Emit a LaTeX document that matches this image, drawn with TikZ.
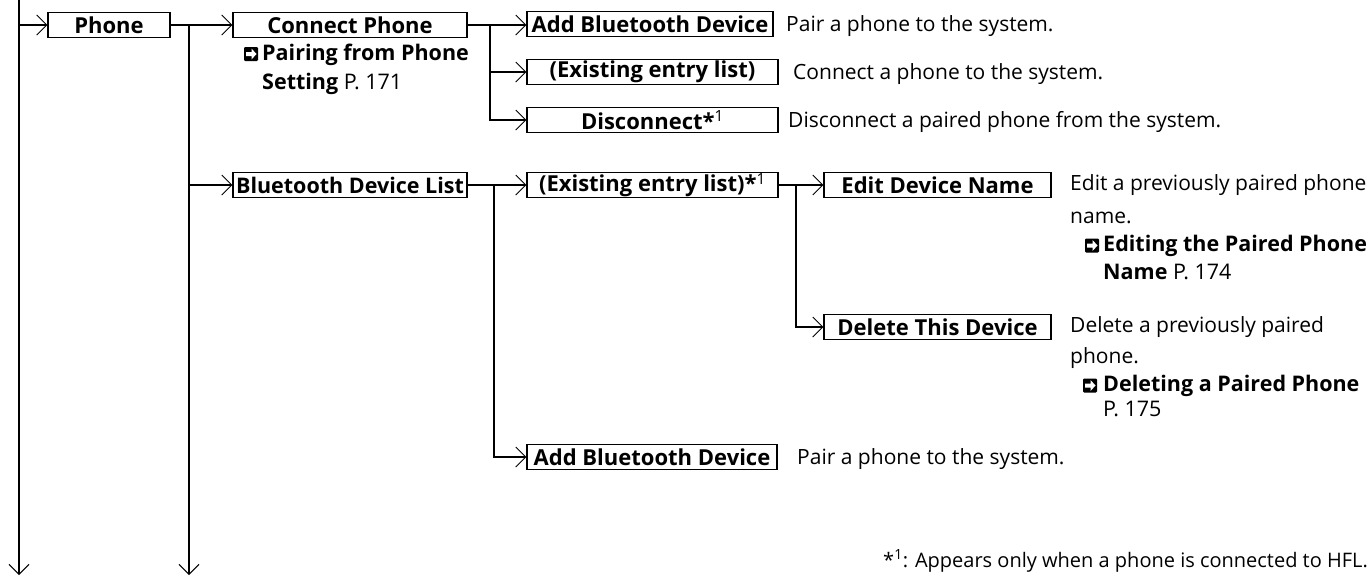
\documentclass[tikz,border=0pt]{standalone}
\usepackage{fontspec}
\setmainfont{Open Sans}
\usetikzlibrary{arrows.meta}
\newcommand{\icoarrow}[1]{%
  \fill[white] ([shift={(-5pt,-2pt)}]#1.center) -- ([shift={(0.5pt,-2pt)}]#1.center) -- ([shift={(0.5pt,-5.5pt)}]#1.center)
    -- ([shift={(5.5pt,0pt)}]#1.center) -- ([shift={(0.5pt,5.5pt)}]#1.center) -- ([shift={(0.5pt,2pt)}]#1.center)
    -- ([shift={(-5pt,2pt)}]#1.center) -- cycle;}
\begin{document}
\begin{tikzpicture}[x=1pt,y=-1pt,
  box/.style={draw, line width=1.1pt, minimum height=25pt, inner sep=0pt,
    font=\fontsize{22}{26}\selectfont\bfseries},
  desc/.style={anchor=base west, inner sep=0pt, font=\fontsize{21}{25}\selectfont},
  refline/.style={desc, font=\fontsize{21.5}{25}\selectfont},
  conn/.style={line width=2pt},
  arr/.style={conn, -{Straight Barb[length=10pt,width=20pt,line width=1pt]}},
  icon/.style={fill=black, rounded corners=1.2pt, minimum size=14pt, inner sep=0pt, outer sep=0pt}
]
\useasboundingbox (0,0) rectangle (1372,576);

% boxes
\node[box, minimum width=122pt] (phone) at (109,25) {Phone};
\node[box, minimum width=234pt] (connect) at (350,25) {Connect Phone};
\node[box, minimum width=246pt] (addbt1) at (650,24) {Add Bluetooth Device};
\node[box, minimum width=251pt] (exist1) at (652.5,72) {(Existing entry list)};
\node[box, minimum width=251pt] (disc) at (652.5,120) {Disconnect*\textsuperscript{\mdseries 1}};
\node[box, minimum width=234pt, font=\fontsize{21.5}{26}\selectfont\bfseries] (bdl) at (350,185) {Bluetooth Device List};
\node[box, minimum width=251pt] (exist2) at (652.5,185) {(Existing entry list)*\textsuperscript{\mdseries 1}};
\node[box, minimum width=227pt] (edit) at (937.5,185) {Edit Device Name};
\node[box, minimum width=227pt] (delete) at (937.5,327) {Delete This Device};
\node[box, minimum width=250pt] (addbt2) at (652,457) {Add Bluetooth Device};

% coordinates
\coordinate (top0) at (19,0);
\coordinate (bot0) at (19,575);
\coordinate (bot1) at (189,575);
\coordinate (v2) at (490,0);
\coordinate (v3) at (494,0);
\coordinate (v4) at (796,0);

% connectors
\draw[arr] (top0) -- (bot0);
\draw[arr] (phone.west -| top0) -- (phone.west);
\draw[arr] (phone.east) -- (connect.west);
\draw[arr] (phone.east -| bot1) -- (bot1);
\draw[arr] (bdl.west -| bot1) -- (bdl.west);
\draw[arr] (connect.east) -- (addbt1.west |- connect.east);
\draw[arr] (connect.east -| v2) |- (exist1.west);
\draw[arr] (connect.east -| v2) |- (disc.west);
\draw[arr] (bdl.east) -- (exist2.west);
\draw[arr] (bdl.east -| v3) |- (addbt2.west);
\draw[arr] (exist2.east) -- (edit.west);
\draw[arr] (exist2.east -| v4) |- (delete.west);

% descriptions
\node[desc] (d1) at (786,31) {Pair a phone to the system.};
\node[desc] (d2) at (793,79) {Connect a phone to the system.};
\node[desc] (d3) at (788,127) {Disconnect a paired phone from the system.};
\node[desc] (d4a) at (1070,190) {Edit a previously paired phone};
\node[desc] (d4b) at (1070,223) {name.};
\node[desc] (d5a) at (1070,332) {Delete a previously paired};
\node[desc] (d5b) at (1070,363) {phone.};
\node[desc] (d6) at (797,464) {Pair a phone to the system.};

% references
\node[icon] (ic1) at (251,54) {};
\icoarrow{ic1}
\node[refline] (r1a) at (262,60) {\textbf{Pairing from Phone}};
\node[refline] (r1b) at (262,89) {\textbf{Setting} P. 171};
\node[icon] (ic2) at (1092,245.5) {};
\icoarrow{ic2}
\node[refline] (r2a) at (1103,251) {\textbf{Editing the Paired Phone}};
\node[refline] (r2b) at (1103,279) {\textbf{Name} P. 174};
\node[icon] (ic3) at (1090,385.5) {};
\icoarrow{ic3}
\node[refline] (r3a) at (1103,391) {\textbf{Deleting a Paired Phone}};
\node[refline] (r3b) at (1103,416) {P. 175};

% footnote
\node[desc, anchor=base east, font=\fontsize{20}{24}\selectfont] (fn) at (1368,567) {*\textsuperscript{1}: Appears only when a phone is connected to HFL.};
\end{tikzpicture}
\end{document}
